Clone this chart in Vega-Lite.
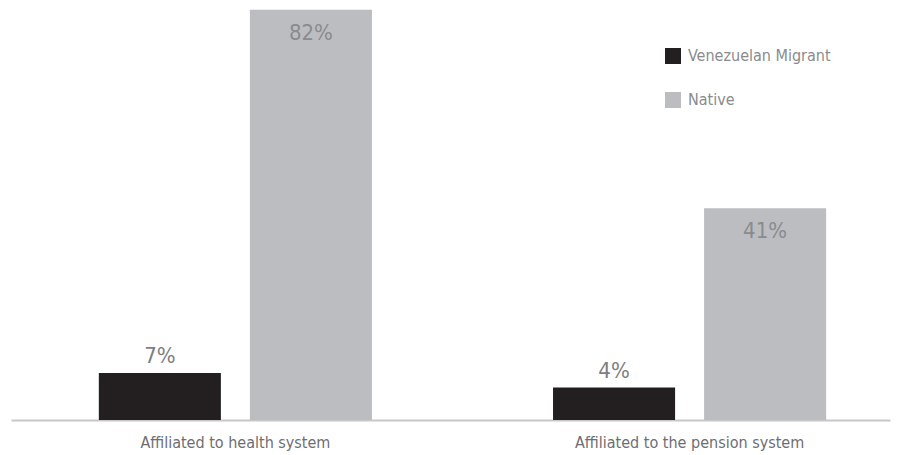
{
  "$schema": "https://vega.github.io/schema/vega-lite/v6.json",
  "width": 879,
  "height": 420,
  "autosize": {"type": "none"},
  "padding": {"left": 11, "top": 0, "right": 10, "bottom": 35},
  "background": "white",
  "config": {
    "view": {"stroke": null},
    "font": "Liberation Sans Narrow, DejaVu Sans Condensed, sans-serif"
  },
  "data": {
    "values": [
      {"indicator": "Affiliated to health system", "group": "Venezuelan Migrant", "value": 7, "label": "7%"},
      {"indicator": "Affiliated to health system", "group": "Native", "value": 82, "label": "82%"},
      {"indicator": "Affiliated to the pension system", "group": "Venezuelan Migrant", "value": 4, "label": "4%"},
      {"indicator": "Affiliated to the pension system", "group": "Native", "value": 41, "label": "41%"}
    ]
  },
  "encoding": {
    "x": {
      "field": "indicator",
      "type": "nominal",
      "sort": null,
      "scale": {"paddingInner": 0.3987, "paddingOuter": 0.167, "align": 0.579},
      "axis": {
        "title": null,
        "labelAngle": 0,
        "labelLimit": 0,
        "ticks": false,
        "grid": false,
        "domainColor": "#c8c8c8",
        "domainWidth": 2,
        "labelFontSize": 16,
        "labelColor": "#6d6e71",
        "labelPadding": 14
      }
    },
    "xOffset": {
      "field": "group",
      "type": "nominal",
      "sort": ["Venezuelan Migrant", "Native"],
      "scale": {"paddingInner": 0.192, "paddingOuter": 0}
    },
    "y": {
      "field": "value",
      "type": "quantitative",
      "scale": {"domain": [-2.7, 84], "zero": false, "nice": false},
      "axis": null
    }
  },
  "layer": [
    {
      "mark": {"type": "bar"},
      "encoding": {
        "y2": {"datum": -2.7},
        "color": {
          "field": "group",
          "type": "nominal",
          "sort": ["Venezuelan Migrant", "Native"],
          "scale": {"domain": ["Venezuelan Migrant", "Native"], "range": ["#231f20", "#bcbdc0"]},
          "legend": {
            "title": null,
            "orient": "none",
            "legendX": 654,
            "legendY": 48,
            "symbolType": "square",
            "symbolSize": 256,
            "symbolStrokeWidth": 0,
            "labelFontSize": 16,
            "labelColor": "#8a8b8e",
            "labelOffset": 7,
            "rowPadding": 28
          }
        }
      }
    },
    {
      "transform": [{"filter": "datum.group == 'Native'"}],
      "mark": {"type": "text", "baseline": "top", "dy": 13, "fontSize": 22, "color": "#8a8b8e"},
      "encoding": {"text": {"field": "label"}}
    },
    {
      "transform": [{"filter": "datum.group == 'Venezuelan Migrant'"}],
      "mark": {"type": "text", "baseline": "bottom", "dy": -5, "fontSize": 22, "color": "#7d7e81"},
      "encoding": {"text": {"field": "label"}}
    }
  ]
}
